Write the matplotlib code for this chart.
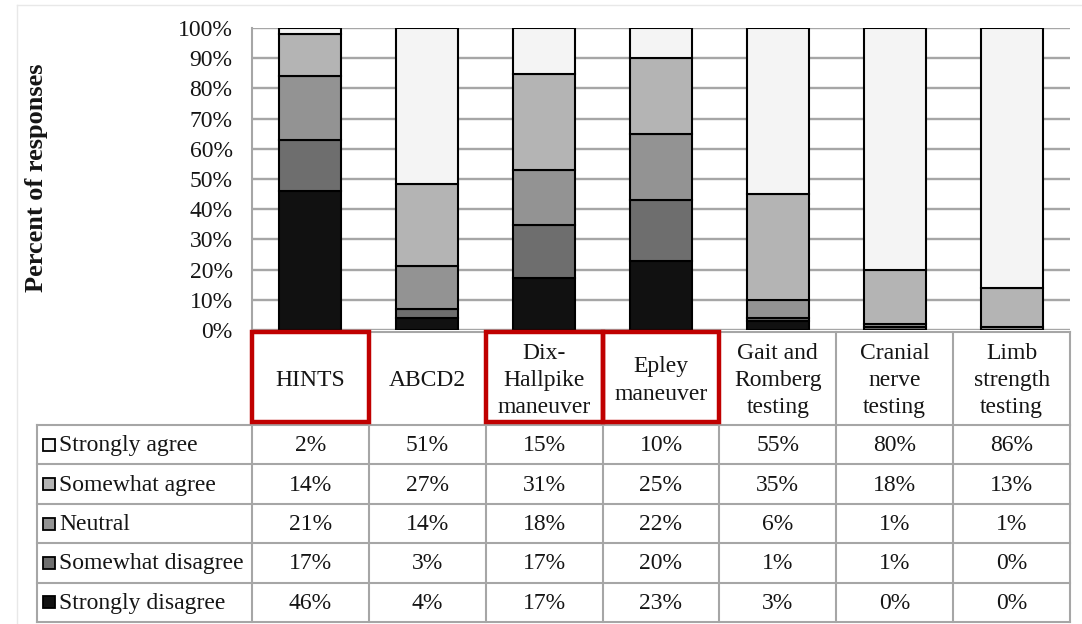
import matplotlib
matplotlib.use("Agg")
import matplotlib.pyplot as plt
from matplotlib.patches import Rectangle
import numpy as np

# ---------------- data ----------------
categories = ["HINTS", "ABCD2", "Dix-\nHallpike\nmaneuver", "Epley\nmaneuver",
              "Gait and\nRomberg\ntesting", "Cranial\nnerve\ntesting",
              "Limb\nstrength\ntesting"]
responses = ["Strongly agree", "Somewhat agree", "Neutral",
             "Somewhat disagree", "Strongly disagree"]
strongly_agree = [2, 51, 15, 10, 55, 80, 86]
somewhat_agree = [14, 27, 31, 25, 35, 18, 13]
neutral = [21, 14, 18, 22, 6, 1, 1]
somewhat_disagree = [17, 3, 17, 20, 1, 1, 0]
strongly_disagree = [46, 4, 17, 23, 3, 0, 0]
highlighted = ["HINTS", "Dix-\nHallpike\nmaneuver", "Epley\nmaneuver"]
yticks = list(range(0, 101, 10))
ytick_labels = [f"{v}%" for v in yticks]

series = [strongly_agree, somewhat_agree, neutral, somewhat_disagree, strongly_disagree]
colors = ["#f4f4f4", "#b4b4b4", "#939393", "#6e6e6e", "#111111"]

# ---------------- style / layout ----------------
FONT = "Liberation Serif"
FS = 17
W, H = 1082, 624
ax_l, ax_r = 252, 1070
ax_top, ax_bot = 28, 330
tab_left = 37
head_top, head_bot, tab_bot = 332, 425, 622
ncat = len(categories)
col_w = (ax_r - ax_l) / ncat
row_h = (tab_bot - head_bot) / len(responses)
txt_col = "#151515"

fig = plt.figure(figsize=(W / 100, H / 100), dpi=100)
fig.patch.set_facecolor("white")

# chart axes
ax = fig.add_axes([ax_l / W, 1 - ax_bot / H, (ax_r - ax_l) / W, (ax_bot - ax_top) / H])
x = np.arange(ncat)
data = np.array(series, dtype=float)
pct = data / data.sum(axis=0) * 100
bottom = np.zeros(ncat)
for i in range(len(responses) - 1, -1, -1):
    ax.bar(x, pct[i], bottom=bottom, width=0.53, color=colors[i],
           edgecolor="black", linewidth=1.5, zorder=3)
    bottom += pct[i]
ax.set_xlim(-0.5, ncat - 0.5)
ax.set_ylim(0, 100)
ax.set_yticks(yticks)
ax.set_yticklabels(ytick_labels, fontfamily=FONT, fontsize=FS, color=txt_col)
ax.set_xticks([])
ax.tick_params(axis="y", length=0, pad=14)
ax.yaxis.grid(True, color="#a6a6a6", linewidth=1.7, zorder=0)
for s in ["top", "right", "bottom"]:
    ax.spines[s].set_visible(False)
ax.spines["left"].set_color("#a6a6a6")
ax.spines["left"].set_linewidth(1.5)

# y label
fig.text(37 / W, 1 - 178 / H, "Percent of responses", rotation=90, ha="center",
         va="center", fontfamily=FONT, fontsize=19, fontweight="bold", color=txt_col)

# table axes (pixel coordinates)
tb = fig.add_axes([0, 0, 1, 1])
tb.set_xlim(0, W)
tb.set_ylim(H, 0)
tb.axis("off")
tb.patch.set_alpha(0)

gc = "#a6a6a6"
glw = 1.5
# horizontal lines
tb.plot([ax_l, ax_r], [head_top, head_top], color=gc, lw=glw)
for r in range(len(responses) + 1):
    yy = head_bot + r * row_h
    tb.plot([tab_left, ax_r], [yy, yy], color=gc, lw=glw)
# vertical lines
tb.plot([tab_left, tab_left], [head_bot, tab_bot], color=gc, lw=glw)
for k in range(ncat + 1):
    xx = ax_l + k * col_w
    tb.plot([xx, xx], [head_top, tab_bot], color=gc, lw=glw)

# header labels
for j, c in enumerate(categories):
    cx = ax_l + (j + 0.5) * col_w
    tb.text(cx, (head_top + head_bot) / 2 + 2, c, ha="center", va="center",
            fontfamily=FONT, fontsize=FS, linespacing=1.38, color=txt_col)
    if c in highlighted:
        tb.add_patch(Rectangle((ax_l + j * col_w, head_top), col_w, head_bot - head_top - 3,
                               fill=False, edgecolor="#c00000", linewidth=3.2, zorder=5))

# legend rows and values
for i, name in enumerate(responses):
    cy = head_bot + (i + 0.5) * row_h
    tb.add_patch(Rectangle((43, cy - 6), 12, 12, facecolor=colors[i],
                           edgecolor="black", linewidth=1.3))
    tb.text(59, cy + 1, name, ha="left", va="center", fontfamily=FONT,
            fontsize=FS, color=txt_col)
    for j in range(ncat):
        cx = ax_l + (j + 0.5) * col_w
        tb.text(cx, cy + 1, f"{series[i][j]}%", ha="center", va="center",
                fontfamily=FONT, fontsize=FS, color=txt_col)

# faint outer frame
tb.plot([17, 17], [5, H], color="#e8e8e8", lw=1)
tb.plot([17, W], [5, 5], color="#e8e8e8", lw=1)

fig.savefig("out.png", dpi=100)
